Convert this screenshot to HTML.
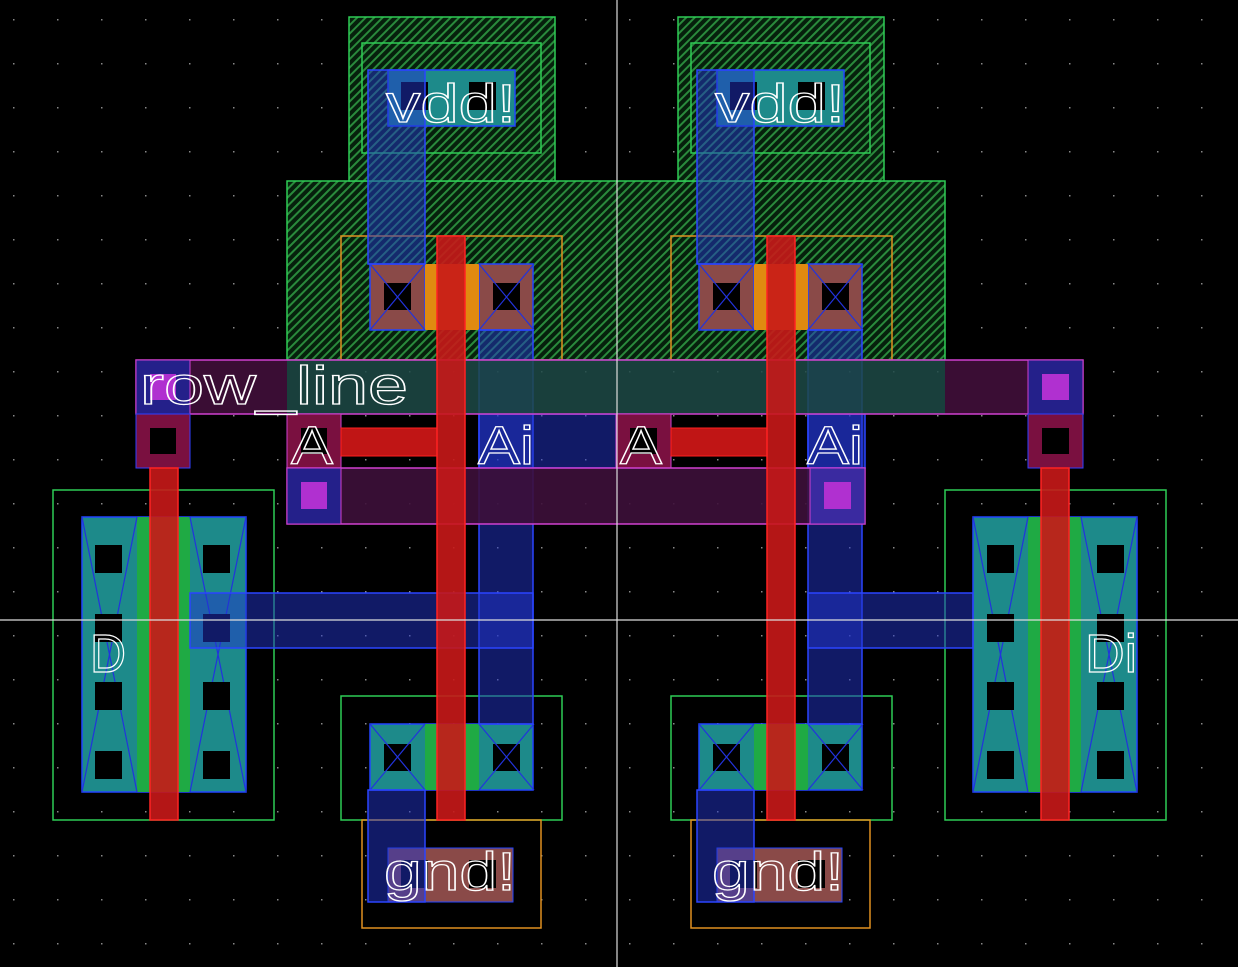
<!DOCTYPE html>
<html><head><meta charset="utf-8"><style>
html,body{margin:0;padding:0;background:#000;}
svg{display:block;}
text{font-family:"Liberation Sans",sans-serif;fill:none;stroke:#fff;stroke-width:1.3;}
</style></head><body>
<svg width="1238" height="967" viewBox="0 0 1238 967" xmlns="http://www.w3.org/2000/svg">
<defs>
<pattern id="dots" width="44" height="44" patternUnits="userSpaceOnUse" x="-7" y="-1">
<rect x="20" y="20" width="1.5" height="1.5" fill="#888"/></pattern>
<pattern id="hg" width="6" height="6" patternUnits="userSpaceOnUse" patternTransform="rotate(45)">
<rect width="6" height="6" fill="#06200c"/><rect width="2" height="6" fill="#2a8a3c"/></pattern>
<g id="half">
<rect x="349" y="17" width="206" height="164" fill="url(#hg)" stroke="#2ecc55" stroke-width="1.5"/>
<rect x="362" y="43" width="179" height="110" fill="none" stroke="#2ecc55" stroke-width="1.5"/>
<rect x="388" y="70" width="127" height="56" fill="#1d8a8a" stroke="#2244ff" stroke-width="1.5"/>
<rect x="401" y="82" width="27" height="28" fill="#000"/>
<rect x="469" y="82" width="27" height="28" fill="#000"/>
</g>
<g id="xc" stroke="#2233dd" stroke-width="1.2"><line x1="0" y1="0" x2="55" y2="66"/><line x1="55" y1="0" x2="0" y2="66"/></g>
</defs>
<rect width="1238" height="967" fill="#000"/>
<rect width="1238" height="967" fill="url(#dots)"/>

<rect x="287" y="181" width="658" height="179" fill="url(#hg)" stroke="#2ecc55" stroke-width="1.5"/>
<use href="#half"/>
<use href="#half" transform="translate(329,0)"/>

<rect x="341" y="236" width="221" height="124" fill="none" stroke="#e09020" stroke-width="1.5"/>
<rect x="671" y="236" width="221" height="124" fill="none" stroke="#e09020" stroke-width="1.5"/>

<g>
<rect x="53" y="490" width="221" height="330" fill="none" stroke="#2ecc55" stroke-width="1.5"/>
<rect x="82" y="517" width="164" height="275" fill="#1d8a8a" stroke="#2244ff" stroke-width="1.5"/>
<rect x="137" y="517" width="53" height="275" fill="#1faa44"/>
<rect x="945" y="490" width="221" height="330" fill="none" stroke="#2ecc55" stroke-width="1.5"/>
<rect x="973" y="517" width="164" height="275" fill="#1d8a8a" stroke="#2244ff" stroke-width="1.5"/>
<rect x="1028" y="517" width="53" height="275" fill="#1faa44"/>
</g>
<g stroke="#2233dd" stroke-width="1.2">
<line x1="82" y1="517" x2="137" y2="792"/><line x1="137" y1="517" x2="82" y2="792"/>
<line x1="190" y1="517" x2="246" y2="792"/><line x1="246" y1="517" x2="190" y2="792"/>
<line x1="973" y1="517" x2="1028" y2="792"/><line x1="1028" y1="517" x2="973" y2="792"/>
<line x1="1081" y1="517" x2="1137" y2="792"/><line x1="1137" y1="517" x2="1081" y2="792"/>
</g>
<g fill="#000">
<rect x="95" y="545" width="27" height="28"/><rect x="95" y="614" width="27" height="28"/><rect x="95" y="682" width="27" height="28"/><rect x="95" y="751" width="27" height="28"/>
<rect x="203" y="545" width="27" height="28"/><rect x="203" y="614" width="27" height="28"/><rect x="203" y="682" width="27" height="28"/><rect x="203" y="751" width="27" height="28"/>
<rect x="987" y="545" width="27" height="28"/><rect x="987" y="614" width="27" height="28"/><rect x="987" y="682" width="27" height="28"/><rect x="987" y="751" width="27" height="28"/>
<rect x="1097" y="545" width="27" height="28"/><rect x="1097" y="614" width="27" height="28"/><rect x="1097" y="682" width="27" height="28"/><rect x="1097" y="751" width="27" height="28"/>
</g>

<rect x="341" y="696" width="221" height="124" fill="none" stroke="#2ecc55" stroke-width="1.5"/>
<rect x="671" y="696" width="221" height="124" fill="none" stroke="#2ecc55" stroke-width="1.5"/>
<rect x="370" y="724" width="163" height="66" fill="#1d8a8a" stroke="#2244ff" stroke-width="1.5"/>
<rect x="425" y="724" width="54" height="66" fill="#1faa44"/>
<rect x="699" y="724" width="163" height="66" fill="#1d8a8a" stroke="#2244ff" stroke-width="1.5"/>
<rect x="754" y="724" width="54" height="66" fill="#1faa44"/>
<g fill="#000">
<rect x="384" y="744" width="27" height="27"/><rect x="493" y="744" width="27" height="27"/>
<rect x="713" y="744" width="27" height="27"/><rect x="822" y="744" width="27" height="27"/>
</g>
<use href="#xc" x="370" y="724"/><use href="#xc" x="479" y="724"/>
<use href="#xc" x="699" y="724"/><use href="#xc" x="808" y="724"/>

<rect x="362" y="820" width="179" height="108" fill="none" stroke="#e09020" stroke-width="1.5"/>
<rect x="691" y="820" width="179" height="108" fill="none" stroke="#e09020" stroke-width="1.5"/>
<rect x="388" y="848" width="125" height="54" fill="#8a4a48" stroke="#2244ff"/>
<rect x="717" y="848" width="125" height="54" fill="#8a4a48" stroke="#2244ff"/>
<rect x="401" y="860" width="27" height="28" fill="#000"/><rect x="469" y="860" width="27" height="28" fill="#000"/>
<rect x="730" y="860" width="27" height="28" fill="#000"/><rect x="798" y="860" width="27" height="28" fill="#000"/>

<g>
<rect x="370" y="264" width="55" height="66" fill="#8a4a48" stroke="#2244ff" stroke-width="1.5"/>
<rect x="479" y="264" width="54" height="66" fill="#8a4a48" stroke="#2244ff" stroke-width="1.5"/>
<rect x="425" y="264" width="54" height="66" fill="#e08a10"/>
<rect x="699" y="264" width="55" height="66" fill="#8a4a48" stroke="#2244ff" stroke-width="1.5"/>
<rect x="808" y="264" width="54" height="66" fill="#8a4a48" stroke="#2244ff" stroke-width="1.5"/>
<rect x="754" y="264" width="54" height="66" fill="#e08a10"/>
<rect x="384" y="283" width="27" height="27" fill="#000"/><rect x="493" y="283" width="27" height="27" fill="#000"/>
<rect x="713" y="283" width="27" height="27" fill="#000"/><rect x="822" y="283" width="27" height="27" fill="#000"/>
</g>
<use href="#xc" x="370" y="264"/><use href="#xc" x="479" y="264"/>
<use href="#xc" x="699" y="264"/><use href="#xc" x="808" y="264"/>

<g fill="#2233cc" fill-opacity="0.5" stroke="#2a44ff" stroke-width="1.5">
<rect x="368" y="70" width="57" height="194"/>
<rect x="697" y="70" width="57" height="194"/>
<rect x="479" y="330" width="54" height="394"/>
<rect x="808" y="330" width="54" height="394"/>
<rect x="190" y="593" width="343" height="55"/>
<rect x="808" y="593" width="165" height="55"/>
<rect x="368" y="790" width="57" height="112"/>
<rect x="697" y="790" width="57" height="112"/>
<rect x="479" y="414" width="138" height="54"/>
<rect x="808" y="414" width="57" height="54"/>
</g>

<rect x="136" y="360" width="151" height="54" fill="#3a0d34"/>
<rect x="287" y="360" width="658" height="54" fill="#1d4a46" fill-opacity="0.85"/>
<rect x="945" y="360" width="138" height="54" fill="#3a0d34"/>
<rect x="136" y="360" width="947" height="54" fill="none" stroke="#d040d0" stroke-width="1.5"/>
<rect x="136" y="360" width="54" height="54" fill="#24208a" stroke="#d040d0"/>
<rect x="150" y="374" width="26" height="26" fill="#b030d0"/>
<rect x="1028" y="360" width="55" height="54" fill="#24208a" stroke="#d040d0"/>
<rect x="1042" y="374" width="27" height="26" fill="#b030d0"/>

<rect x="136" y="414" width="54" height="54" fill="#7a1040" stroke="#3040ff"/>
<rect x="150" y="428" width="26" height="26" fill="#000"/>
<rect x="1028" y="414" width="55" height="54" fill="#7a1040" stroke="#3040ff"/>
<rect x="1042" y="428" width="27" height="26" fill="#000"/>
<rect x="287" y="414" width="54" height="54" fill="#7a1040" stroke="#d040d0"/>
<rect x="301" y="428" width="26" height="26" fill="#000"/>
<rect x="616" y="414" width="55" height="54" fill="#7a1040" stroke="#d040d0"/>
<rect x="630" y="428" width="27" height="26" fill="#000"/>
<rect x="341" y="428" width="96" height="28" fill="#c01515" stroke="#ff2020"/>
<rect x="671" y="428" width="96" height="28" fill="#c01515" stroke="#ff2020"/>

<rect x="287" y="468" width="578" height="56" fill="#3d0f3a" fill-opacity="0.9" stroke="#d040d0" stroke-width="1.5"/>
<rect x="287" y="468" width="54" height="56" fill="#24208a" stroke="#d040d0"/>
<rect x="301" y="482" width="26" height="27" fill="#b030d0"/>
<rect x="810" y="468" width="55" height="56" fill="#3a2aa0" stroke="#d040d0"/>
<rect x="824" y="482" width="27" height="27" fill="#b030d0"/>

<g fill="#c81818" fill-opacity="0.9" stroke="#ff2222" stroke-width="1.5">
<rect x="437" y="236" width="28" height="584"/>
<rect x="767" y="236" width="28" height="584"/>
<rect x="150" y="468" width="28" height="352"/>
<rect x="1041" y="468" width="28" height="352"/>
</g>

<line x1="617" y1="0" x2="617" y2="967" stroke="#ddd" stroke-width="1.2"/>
<line x1="0" y1="620" x2="1238" y2="620" stroke="#ddd" stroke-width="1.2"/>

<g font-size="54">
<text x="386" y="122" textLength="130" lengthAdjust="spacingAndGlyphs">vdd!</text>
<text x="715" y="122" textLength="130" lengthAdjust="spacingAndGlyphs">vdd!</text>
<text x="140" y="404" textLength="268" lengthAdjust="spacingAndGlyphs">row_line</text>
<text x="291" y="464" textLength="42" lengthAdjust="spacingAndGlyphs">A</text>
<text x="620" y="464" textLength="42" lengthAdjust="spacingAndGlyphs">A</text>
<text x="478" y="464" textLength="56" lengthAdjust="spacingAndGlyphs">Ai</text>
<text x="807" y="464" textLength="56" lengthAdjust="spacingAndGlyphs">Ai</text>
<text x="90" y="672" textLength="36" lengthAdjust="spacingAndGlyphs">D</text>
<text x="1085" y="672" textLength="52" lengthAdjust="spacingAndGlyphs">Di</text>
<text x="384" y="890" textLength="132" lengthAdjust="spacingAndGlyphs">gnd!</text>
<text x="712" y="890" textLength="132" lengthAdjust="spacingAndGlyphs">gnd!</text>
</g>
</svg>
</body></html>
